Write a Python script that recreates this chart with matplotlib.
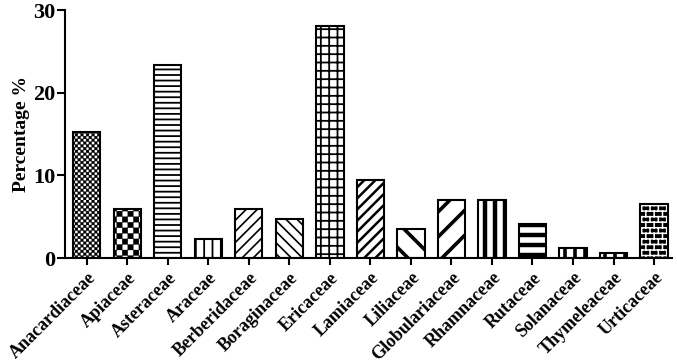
import warnings
import numpy as np
import matplotlib
matplotlib.use("Agg")
import matplotlib.pyplot as plt
from matplotlib import hatch as mhatch
from matplotlib.path import Path

warnings.filterwarnings("ignore")
plt.rcParams['font.family'] = ['Liberation Serif', 'DejaVu Serif']
plt.rcParams['font.weight'] = 'bold'

families = ['Anacardiaceae', 'Apiaceae', 'Asteraceae', 'Araceae', 'Berberidaceae',
            'Boraginaceae', 'Ericaceae', 'Lamiaceae', 'Liliaceae', 'Globulariaceae',
            'Rhamnaceae', 'Rutaceae', 'Solanaceae', 'Thymeleaceae', 'Urticaceae']
percent = [15.2, 5.9, 23.4, 2.3, 5.9, 4.7, 28.1, 9.4, 3.5, 7.0, 7.0, 4.1, 1.2, 0.6, 6.5]


# --- a few extra hatch patterns (checker, bricks, sparser lines) ---
class Checker(mhatch.HatchPatternBase):
    def __init__(self, hatch, density):
        n = int(hatch.count('c') * density)
        self.n = n - n % 2
        self.num_vertices = (self.n * self.n // 2) * 5

    def set_vertices_and_codes(self, vertices, codes):
        s = 1.0 / self.n
        k = 0
        for i in range(self.n):
            for j in range(self.n):
                if (i + j) % 2 == 0:
                    x0, y0 = i * s, j * s
                    vertices[k:k + 5] = [[x0, y0], [x0 + s, y0], [x0 + s, y0 + s],
                                         [x0, y0 + s], [x0, y0]]
                    codes[k:k + 5] = [Path.MOVETO, Path.LINETO, Path.LINETO,
                                      Path.LINETO, Path.CLOSEPOLY]
                    k += 5


class Bricks(mhatch.HatchPatternBase):
    def __init__(self, hatch, density):
        c = hatch.count('b')
        self.rows = int(c * density * 3)
        self.cols = int(c * density * 2)
        self.num_vertices = self.rows * 2 + self.rows * self.cols * 2 if c else 0

    def set_vertices_and_codes(self, vertices, codes):
        h = 1.0 / self.rows
        w = 1.0 / self.cols
        k = 0
        for r in range(self.rows):
            y = r * h
            vertices[k:k + 2] = [[0, y], [1, y]]
            codes[k:k + 2] = [Path.MOVETO, Path.LINETO]
            k += 2
            off = (r % 2) * w / 2
            for j in range(self.cols):
                xv = j * w + off
                vertices[k:k + 2] = [[xv, y], [xv, y + h]]
                codes[k:k + 2] = [Path.MOVETO, Path.LINETO]
                k += 2


class SparseH(mhatch.HorizontalHatch):
    def __init__(self, hatch, density):
        self.num_lines = int(hatch.count('h') * density / 3)
        self.num_vertices = self.num_lines * 2


class SparseV(mhatch.VerticalHatch):
    def __init__(self, hatch, density):
        self.num_lines = int(hatch.count('v') * density / 3)
        self.num_vertices = self.num_lines * 2


class SparseNE(mhatch.NorthEastHatch):
    def __init__(self, hatch, density):
        self.num_lines = int(hatch.count('n') * density / 3)
        self.num_vertices = (self.num_lines + 1) * 2 if self.num_lines else 0


class SparseSE(mhatch.SouthEastHatch):
    def __init__(self, hatch, density):
        self.num_lines = int(hatch.count('s') * density / 3)
        self.num_vertices = (self.num_lines + 1) * 2 if self.num_lines else 0


mhatch._hatch_types.extend([Checker, Bricks, SparseH, SparseV, SparseNE, SparseSE])

hatches = ['cccccc', 'ccc', '---', '||', '///', '\\\\\\', '++', '///', 'ssss', 'nnnn',
           'vvvvv', 'hhhhh', 'vvvvv', 'vvvvv', 'b']
hatch_lw = [0.2, 0.2, 1.3, 1.3, 1.2, 1.2, 1.3, 1.8, 2.6, 2.6, 3.2, 3.2, 2.6, 2.6, 1.1]

fig = plt.figure(figsize=(6.77, 3.63), dpi=100)
ax = fig.add_axes([0.096, 0.289, 0.897, 0.683])

x = np.arange(len(families))
for i in range(len(families)):
    if families[i] == 'Urticaceae':
        b = ax.bar(x[i], percent[i], width=0.67, color='black', edgecolor='white',
                   hatch=hatches[i], linewidth=0)
        ax.bar(x[i], percent[i], width=0.67, fill=False, edgecolor='black', linewidth=1.5)
    else:
        b = ax.bar(x[i], percent[i], width=0.67, color='white', edgecolor='black',
                   hatch=hatches[i], linewidth=1.5)
    for p in b:
        if hasattr(p, 'set_hatch_linewidth'):
            p.set_hatch_linewidth(hatch_lw[i])

ax.set_xlim(-0.54, 14.45)
ax.set_ylim(0, 30)
ax.set_yticks([0, 10, 20, 30])
ax.set_xticks(x)
ax.set_xticklabels(families, rotation=45, ha='right', rotation_mode='anchor', fontsize=13)
ax.tick_params(axis='y', labelsize=16, width=1.5, length=6, pad=1)
ax.tick_params(axis='x', width=1.5, length=5, pad=3)
ax.set_ylabel('Percentage %', fontsize=14, fontweight='bold', labelpad=2)
for s in ['top', 'right']:
    ax.spines[s].set_visible(False)
for s in ['left', 'bottom']:
    ax.spines[s].set_linewidth(1.5)

fig.savefig('out.png', dpi=100)
